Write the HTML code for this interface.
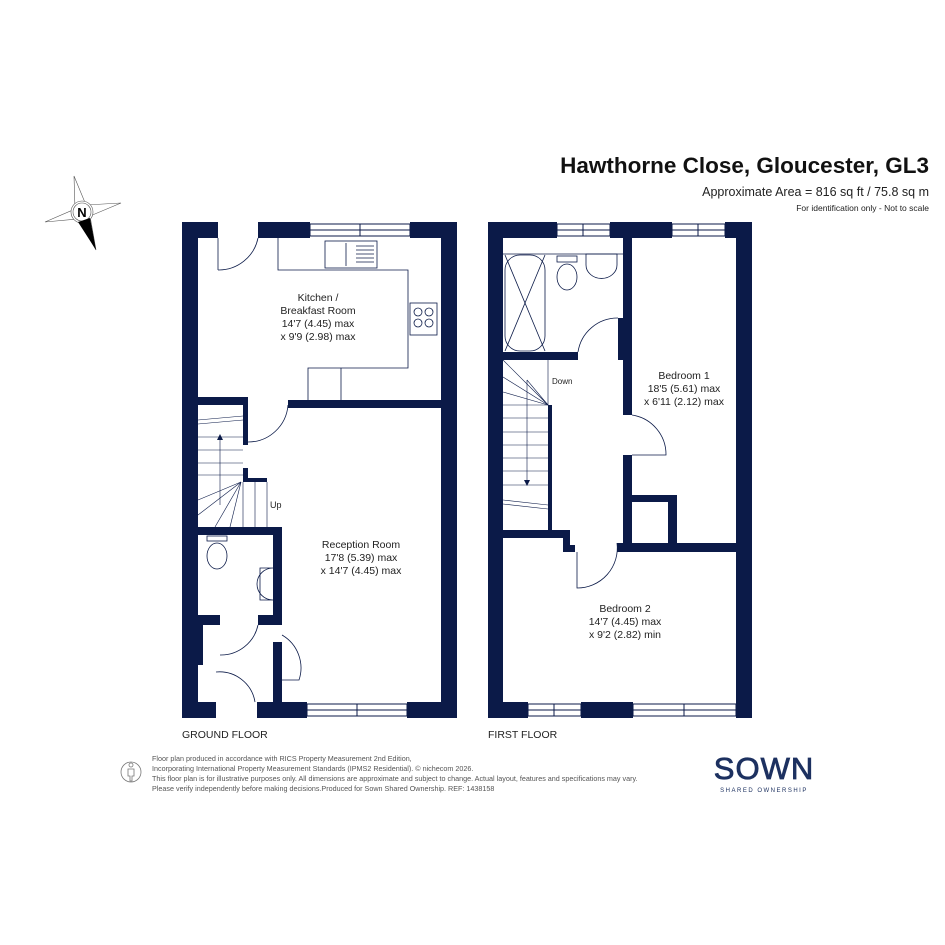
<!DOCTYPE html>
<html><head><meta charset="utf-8"><style>
html,body{margin:0;padding:0;background:#fff}
svg{display:block}
text{font-family:"Liberation Sans",sans-serif}
</style></head><body>
<svg width="945" height="945" viewBox="0 0 945 945" xmlns="http://www.w3.org/2000/svg">
<rect width="945" height="945" fill="#fff"/>
<!-- header -->
<text x="929" y="173" text-anchor="end" font-size="22.5" font-weight="bold" fill="#111">Hawthorne Close, Gloucester, GL3</text>
<text x="929" y="196" text-anchor="end" font-size="12.5" fill="#222">Approximate Area = 816 sq ft / 75.8 sq m</text>
<text x="929" y="211" text-anchor="end" font-size="8.5" fill="#222">For identification only - Not to scale</text>
<!-- compass -->
<g stroke="#555" stroke-width="0.6" fill="none">
<polygon points="74,176 86,205 121,203 90,216 96,250 78,219 45,222 75,209"/>
<circle cx="82" cy="212" r="11" fill="#fff"/>
<circle cx="82" cy="212" r="9"/>
</g>
<polygon points="78,222 90,218 96,250" fill="#000"/>
<text x="82" y="217" text-anchor="middle" font-size="13" font-weight="bold" fill="#000">N</text>

<g fill="#0b1a48">
<!-- GROUND FLOOR walls -->
<rect x="182" y="222" width="36" height="16"/>
<rect x="258" y="222" width="52" height="16"/>
<rect x="410" y="222" width="47" height="16"/>
<rect x="182" y="222" width="16" height="496"/>
<rect x="441" y="222" width="16" height="496"/>
<rect x="182" y="702" width="34" height="16"/>
<rect x="257" y="702" width="50" height="16"/>
<rect x="407" y="702" width="50" height="16"/>
<rect x="288" y="400" width="153" height="8"/>
<rect x="198" y="397" width="49" height="8"/>
<rect x="243" y="397" width="5" height="48"/>
<rect x="243" y="468" width="5" height="14"/>
<rect x="243" y="478" width="24" height="4"/>
<rect x="198" y="527" width="84" height="8"/>
<rect x="273" y="527" width="9" height="90"/>
<rect x="198" y="615" width="22" height="10"/>
<rect x="258" y="615" width="24" height="10"/>
<rect x="273" y="642" width="9" height="60"/>
<rect x="198" y="625" width="5" height="40"/>
<!-- FIRST FLOOR walls -->
<rect x="488" y="222" width="69" height="16"/>
<rect x="610" y="222" width="62" height="16"/>
<rect x="725" y="222" width="27" height="16"/>
<rect x="488" y="222" width="15" height="496"/>
<rect x="736" y="222" width="16" height="496"/>
<rect x="488" y="702" width="40" height="16"/>
<rect x="581" y="702" width="52" height="16"/>
<rect x="736" y="702" width="16" height="16"/>
<rect x="623" y="222" width="9" height="193"/>
<rect x="618" y="318" width="5" height="42"/>
<rect x="623" y="455" width="9" height="90"/>
<rect x="503" y="352" width="75" height="8"/>
<rect x="632" y="495" width="45" height="7"/>
<rect x="668" y="495" width="9" height="55"/>
<rect x="617" y="543" width="135" height="9"/>
<rect x="503" y="530" width="67" height="8"/>
<rect x="563" y="530" width="7" height="22"/>
<rect x="563" y="545" width="12" height="7"/>
<rect x="548" y="405" width="4" height="125"/>
</g>

<!-- windows -->
<g fill="#fff" stroke="#0b1a48" stroke-width="1">
<rect x="310" y="224" width="100" height="12"/>
<rect x="307" y="704" width="100" height="12"/>
<rect x="557" y="224" width="53" height="12"/>
<rect x="672" y="224" width="53" height="12"/>
<rect x="528" y="704" width="53" height="12"/>
<rect x="633" y="704" width="103" height="12"/>
</g>
<g stroke="#0b1a48" stroke-width="1">
<line x1="310" y1="230" x2="410" y2="230"/><line x1="360" y1="224" x2="360" y2="236"/>
<line x1="307" y1="710" x2="407" y2="710"/><line x1="357" y1="704" x2="357" y2="716"/>
<line x1="557" y1="230" x2="610" y2="230"/><line x1="583" y1="224" x2="583" y2="236"/>
<line x1="672" y1="230" x2="725" y2="230"/><line x1="698" y1="224" x2="698" y2="236"/>
<line x1="528" y1="710" x2="581" y2="710"/><line x1="554" y1="704" x2="554" y2="716"/>
<line x1="633" y1="710" x2="736" y2="710"/><line x1="684" y1="704" x2="684" y2="716"/>
</g>

<!-- fixtures & doors -->
<g fill="none" stroke="#0b1a48" stroke-width="0.8">
<polyline points="278,238 278,270 408,270 408,368 308,368 308,400"/>
<line x1="341" y1="368" x2="341" y2="400"/>
<rect x="325" y="241" width="52" height="27"/>
<line x1="346" y1="243" x2="346" y2="266"/>
<line x1="356" y1="246" x2="374" y2="246"/><line x1="356" y1="250" x2="374" y2="250"/><line x1="356" y1="254" x2="374" y2="254"/><line x1="356" y1="258" x2="374" y2="258"/><line x1="356" y1="262" x2="374" y2="262"/>
<rect x="410" y="303" width="27" height="32"/>
<circle cx="418" cy="312" r="4"/><circle cx="429" cy="312" r="4"/><circle cx="418" cy="323" r="4"/><circle cx="429" cy="323" r="4"/>
<path d="M218,270 A40,40 0 0 0 258,238"/>
<line x1="218" y1="238" x2="218" y2="270"/>
<path d="M248,442 A40,40 0 0 0 288,405"/>
<g stroke-width="0.6">
<line x1="198" y1="420" x2="243" y2="416"/><line x1="198" y1="424" x2="243" y2="420"/>
<line x1="198" y1="437" x2="243" y2="437"/><line x1="198" y1="450" x2="243" y2="450"/>
<line x1="198" y1="463" x2="243" y2="463"/><line x1="198" y1="475" x2="243" y2="475"/>
<line x1="241" y1="482" x2="198" y2="500"/><line x1="241" y1="482" x2="198" y2="515"/><line x1="241" y1="482" x2="215" y2="527"/><line x1="241" y1="482" x2="230" y2="527"/>
<line x1="243" y1="482" x2="243" y2="527"/><line x1="255" y1="482" x2="255" y2="527"/><line x1="267" y1="482" x2="267" y2="527"/>
<line x1="220" y1="505" x2="220" y2="438"/>
</g>
<ellipse cx="217" cy="556" rx="10" ry="13"/>
<rect x="207" y="536" width="20" height="5"/>
<path d="M273,568 A16,16 0 0 0 273,600 L260,600 L260,568 Z"/>
<path d="M220,655 A38,38 0 0 0 258,625"/>
<path d="M282,635 A38,38 0 0 1 299,680 L282,680"/>
<path d="M216,672 A36,36 0 0 1 255,702"/>
<rect x="505" y="255" width="40" height="96" rx="15"/>
<line x1="505" y1="255" x2="545" y2="351"/><line x1="545" y1="255" x2="505" y2="351"/>
<line x1="503" y1="254" x2="623" y2="254"/>
<ellipse cx="567" cy="277" rx="10" ry="13"/>
<rect x="557" y="256" width="20" height="6"/>
<path d="M586,254 L617,254 L617,265 A15,13 0 0 1 586,265 Z"/>
<path d="M618,318 A40,40 0 0 0 578,352"/>
<path d="M632,415 A40,40 0 0 1 666,455 L632,455"/>
<path d="M617,543 A40,40 0 0 1 577,588 L577,552"/>
<g stroke-width="0.6">
<line x1="503" y1="360" x2="548" y2="405"/><line x1="503" y1="377" x2="548" y2="405"/><line x1="503" y1="392" x2="548" y2="405"/><line x1="527" y1="380" x2="548" y2="405"/>
<line x1="503" y1="405" x2="548" y2="405"/><line x1="503" y1="418" x2="548" y2="418"/><line x1="503" y1="432" x2="548" y2="432"/><line x1="503" y1="445" x2="548" y2="445"/><line x1="503" y1="458" x2="548" y2="458"/><line x1="503" y1="471" x2="548" y2="471"/><line x1="503" y1="485" x2="548" y2="485"/>
<line x1="503" y1="500" x2="548" y2="505"/><line x1="503" y1="504" x2="548" y2="509"/>
<line x1="548" y1="360" x2="548" y2="405"/>
<polyline points="527,380 527,484"/>
</g>
</g>
<polygon points="524,480 530,480 527,486" fill="#0b1a48"/>
<polygon points="217,440 223,440 220,434" fill="#0b1a48"/>

<g font-size="10.5" fill="#222" text-anchor="middle">
<text x="318" y="301">Kitchen /</text>
<text x="318" y="314">Breakfast Room</text>
<text x="318" y="327">14'7 (4.45) max</text>
<text x="318" y="340">x 9'9 (2.98) max</text>
<text x="361" y="548">Reception Room</text>
<text x="361" y="561">17'8 (5.39) max</text>
<text x="361" y="574">x 14'7 (4.45) max</text>
<text x="684" y="379">Bedroom 1</text>
<text x="684" y="392">18'5 (5.61) max</text>
<text x="684" y="405">x 6'11 (2.12) max</text>
<text x="625" y="612">Bedroom 2</text>
<text x="625" y="625">14'7 (4.45) max</text>
<text x="625" y="638">x 9'2 (2.82) min</text>
</g>
<text x="270" y="508" font-size="9" fill="#222">Up</text>
<text x="552" y="384" font-size="8" fill="#222">Down</text>
<text x="182" y="738" font-size="10.5" fill="#222">GROUND FLOOR</text>
<text x="488" y="738" font-size="10.5" fill="#222">FIRST FLOOR</text>

<g fill="none" stroke="#777" stroke-width="0.8">
<circle cx="131" cy="772" r="10"/>
<circle cx="131" cy="765" r="2"/>
<path d="M128,769 L134,769 L134,776 L132,776 L132,781 L130,781 L130,776 L128,776 Z"/>
</g>
<g font-size="7.2" fill="#555">
<text x="152" y="761">Floor plan produced in accordance with RICS Property Measurement 2nd Edition,</text>
<text x="152" y="771">Incorporating International Property Measurement Standards (IPMS2 Residential).   © nichecom 2026.</text>
<text x="152" y="781">This floor plan is for illustrative purposes only. All dimensions are approximate and subject to change. Actual layout, features and specifications may vary.</text>
<text x="152" y="791">Please verify independently before making decisions.Produced for Sown Shared Ownership.   REF: 1438158</text>
</g>
<text x="764" y="779" text-anchor="middle" font-size="31" fill="#1d3160" letter-spacing="1" stroke="#1d3160" stroke-width="0.8">SOWN</text>
<text x="764" y="792" text-anchor="middle" font-size="6" fill="#1d3160" letter-spacing="1.5">SHARED OWNERSHIP</text>
</svg>
</body></html>
